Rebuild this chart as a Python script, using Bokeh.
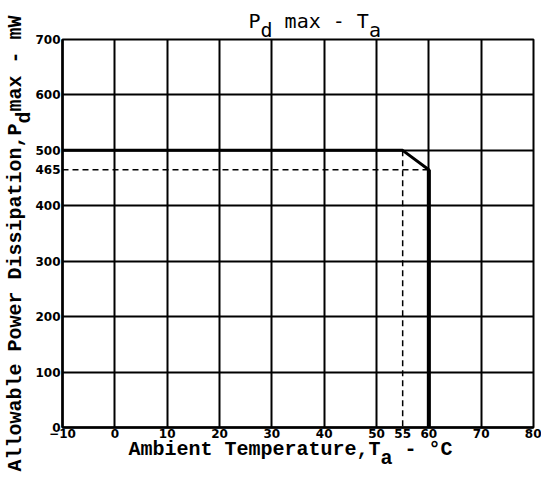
import math
from bokeh.plotting import figure
from bokeh.models import FixedTicker, Label
from bokeh.embed import file_html
from bokeh.resources import INLINE

# ---- data ----
x_ticks = [-10, 0, 10, 20, 30, 40, 50, 55, 60, 70, 80]
x_grid = [-10, 0, 10, 20, 30, 40, 50, 60, 70, 80]
y_ticks = [0, 100, 200, 300, 400, 465, 500, 600, 700]
y_grid = [0, 100, 200, 300, 400, 500, 600, 700]
temps = [-10, 55, 60, 60]          # derating curve, Ta (°C)
power = [500, 500, 465, 0]         # Pd max (mW)

NB = "\u00a0"

p = figure(width=541, height=472, x_range=(-10, 80), y_range=(0, 700),
           output_backend="svg", toolbar_location=None,
           min_border_left=60, min_border_right=8,
           min_border_top=39, min_border_bottom=45)
p.background_fill_color = "white"
p.border_fill_color = "white"
p.outline_line_color = "black"
p.outline_line_width = 2

p.xaxis.ticker = FixedTicker(ticks=x_ticks)
p.yaxis.ticker = FixedTicker(ticks=y_ticks)
p.xgrid.ticker = FixedTicker(ticks=x_grid)
p.ygrid.ticker = FixedTicker(ticks=y_grid)
for g in (p.xgrid, p.ygrid):
    g.grid_line_color = "black"
    g.grid_line_width = 2
    g.grid_line_alpha = 1.0

for ax in (p.xaxis, p.yaxis):
    ax.axis_line_color = "black"
    ax.axis_line_width = 2.5
    ax.major_tick_in = 0
    ax.major_tick_out = 0
    ax.minor_tick_in = 0
    ax.minor_tick_out = 0
    ax.major_label_text_font = "DejaVu Sans"
    ax.major_label_text_font_style = "bold"
    ax.major_label_text_font_size = "12px"
    ax.major_label_text_color = "black"
p.xaxis.major_label_standoff = 1
p.yaxis.major_label_standoff = 2

# derating curve
p.line(temps, power, line_color="black", line_width=3)
p.line([temps[2], temps[3]], [power[2], power[3]], line_color="black", line_width=4)
# dashed guides
p.line([temps[0], temps[2]], [power[2], power[2]], line_color="black",
       line_width=1.5, line_dash="6 4")
p.line([temps[1], temps[1]], [power[1], 0], line_color="black",
       line_width=1.5, line_dash="6 4")

LH = 0.4  # second line acts as subscript

# title  "P_d max - T_a"
title_txt = ("P" + NB + NB + "max" + NB + "-" + NB + "T" + "\n" +
             NB + "d" + NB * 8 + "a")
p.add_layout(Label(x=186, y=31, x_units="screen", y_units="screen",
                   text=title_txt, text_font="DejaVu Sans Mono",
                   text_font_size="20px", text_align="left",
                   text_baseline="top", text_line_height=LH,
                   text_color="black"), "above")

# x-axis label  "Ambient Temperature,T_a - °C"
xl_txt = ("Ambient" + NB + "Temperature,T" + NB + NB + "-" + NB + "°C" + "\n" +
          NB * 21 + "a")
p.add_layout(Label(x=66, y=35, x_units="screen", y_units="screen",
                   text=xl_txt, text_font="Liberation Mono",
                   text_font_size="20px", text_font_style="bold",
                   text_align="left", text_baseline="top",
                   text_line_height=LH, text_color="black"), "below")

# y-axis label  "Allowable Power Dissipation,P_dmax - mW"
yl_txt = ("Allowable" + NB + "Power" + NB + "Dissipation,P" + NB + "max" + NB +
          "-" + NB + "mW" + "\n" + NB * 29 + "d")
p.add_layout(Label(x=3, y=-44, x_units="screen", y_units="screen",
                   text=yl_txt, text_font="Liberation Mono",
                   text_font_size="20px", text_font_style="bold",
                   text_align="left", text_baseline="top", angle=math.pi / 2,
                   text_line_height=LH, text_color="black"), "left")

open("out.html", "w").write(file_html(p, INLINE))
